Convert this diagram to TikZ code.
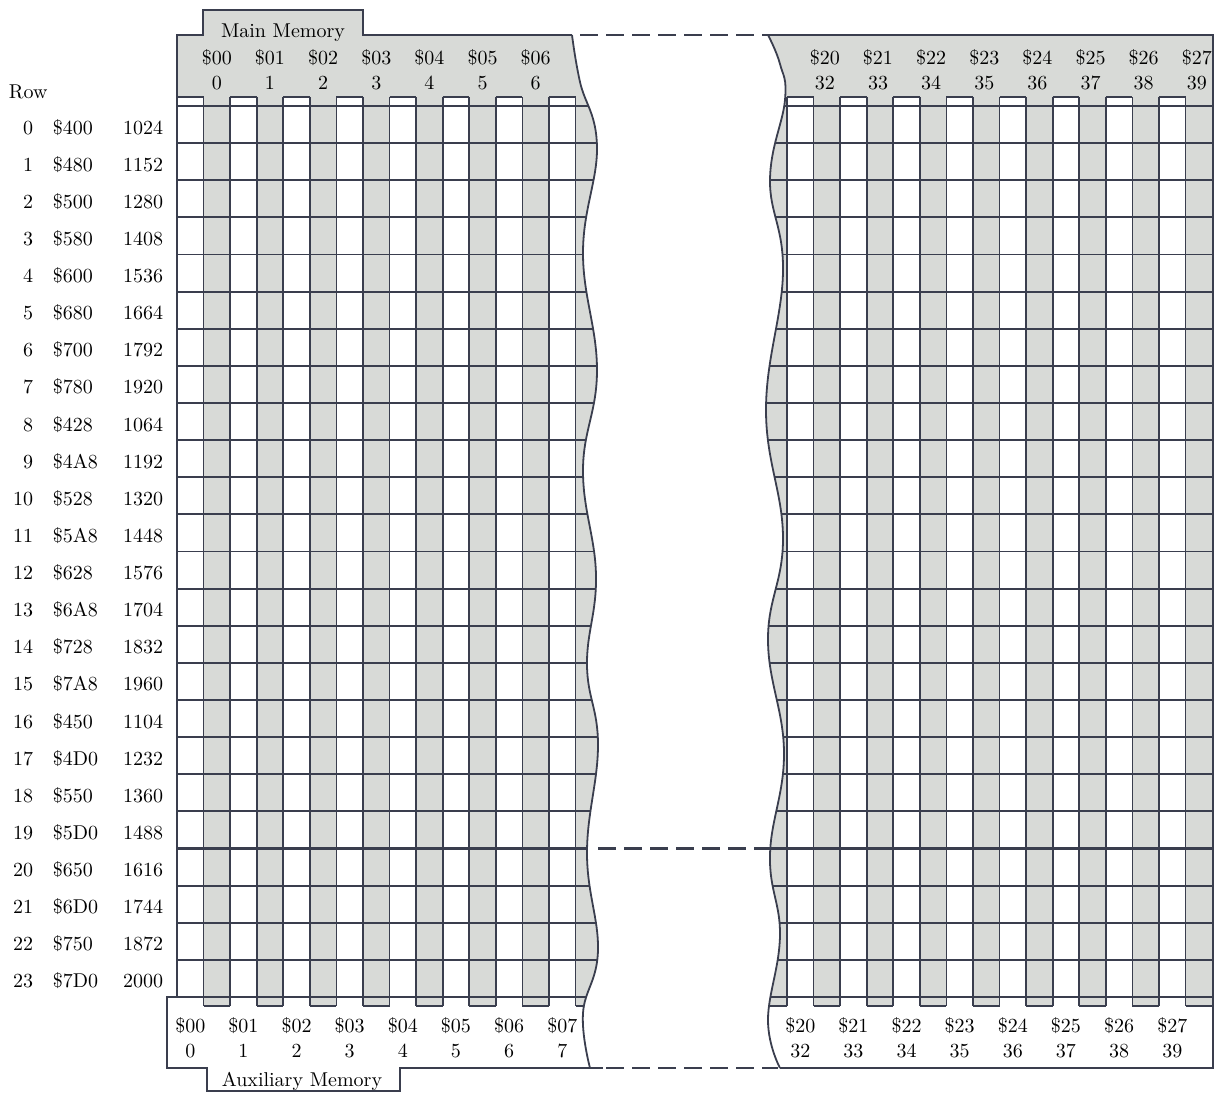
\documentclass[tikz,border=0pt]{standalone}
\usetikzlibrary{positioning}
\definecolor{memgray}{RGB}{216,218,215}
\definecolor{gridclr}{RGB}{58,62,78}
\newcommand{\colwd}{26.57}
\newcommand{\rowht}{37.125}
\newcommand{\leftwave}{plot[smooth, tension=0.7] coordinates {(572,35) (580,82) (597,147) (583,253) (597,370) (583,470) (596,575) (587,665) (598,745) (587,853) (598,950) (583,1013) (590,1068)}}
\newcommand{\rightwave}{plot[smooth, tension=0.7] coordinates {(768,35) (780,64) (785,100) (770,180) (783,272) (766,410) (783,537) (768,640) (784,752) (770,855) (780,935) (768,1020) (780,1068)}}

\begin{document}
\begin{tikzpicture}[x=0.5pt, y=-0.5pt, line width=0.9pt,
  gridln/.style={draw=gridclr, line width=0.9pt},
  lbl/.style={font=\fontsize{10}{12}\selectfont, inner sep=0pt, text=black}]
  \useasboundingbox (0,0) rectangle (1223,1093);

  % left part of the screen
  \begin{scope}
    \clip \leftwave -- (590,1093) -- (0,1093) -- (0,0) -- (572,0) -- cycle;
    \fill[memgray] (177,35) rectangle (620,106);
    \fill[memgray] (203,10) rectangle (363,35);
    \foreach \c in {1,3,...,15}
      \fill[memgray] ({177+\c*\colwd},106) rectangle ++(\colwd,900);
    \foreach \c in {0,2,...,14}
      \fill[white] ({177+\c*\colwd},97) rectangle ++(\colwd,9);
    \foreach \c in {1,...,16}
      \draw[gridln] ({177+\c*\colwd},97) -- ++(0,909);
    \foreach \c in {0,2,...,14}
      \draw[gridln] ({177+\c*\colwd},97) -- ++(\colwd,0);
    \foreach \c in {1,3,...,15}
      \draw[gridln] ({177+\c*\colwd},1006) -- ++(\colwd,0);
    \foreach \r in {0,...,24}
      \draw[gridln] (177,{106+\r*\rowht}) -- (620,{106+\r*\rowht});
    \draw[gridln, line width=1.6pt] (177,{106+20*\rowht}) -- (620,{106+20*\rowht});
  \end{scope}
  \draw[gridln] (177,997) -- (177,35) -- (203,35) -- (203,10) -- (363,10) -- (363,35) -- (572,35);
  \draw[gridln] \leftwave;
  \draw[gridln] (177,997) -- (167,997) -- (167,1068) -- (207,1068) -- (207,1091) -- (400,1091) -- (400,1068) -- (603,1068);

  % right part of the screen
  \begin{scope}
    \clip \rightwave -- (780,1093) -- (1223,1093) -- (1223,0) -- (768,0) -- cycle;
    \fill[memgray] (740,35) rectangle (1213,106);
    \foreach \m in {-1,1,...,15}
      \fill[memgray] ({787+\m*\colwd},106) rectangle ++(\colwd,900);
    \foreach \m in {0,2,...,14}
      \fill[white] ({787+\m*\colwd},97) rectangle ++(\colwd,9);
    \foreach \m in {-1,...,15}
      \draw[gridln] ({787+\m*\colwd},97) -- ++(0,909);
    \foreach \m in {0,2,...,14}
      \draw[gridln] ({787+\m*\colwd},97) -- ++(\colwd,0);
    \foreach \m in {-1,1,...,15}
      \draw[gridln] ({787+\m*\colwd},1006) -- ++(\colwd,0);
    \foreach \r in {0,...,24}
      \draw[gridln] (740,{106+\r*\rowht}) -- (1213,{106+\r*\rowht});
    \draw[gridln, line width=1.6pt] (740,{106+20*\rowht}) -- (1213,{106+20*\rowht});
  \end{scope}
  \draw[gridln] (768,35) -- (1213,35) -- (1213,1068) -- (780,1068);
  \draw[gridln] \rightwave;

  % the gap
  \draw[gridln, dash pattern=on 9pt off 4pt] (580,35) -- (768,35);
  \draw[gridln, line width=1.6pt, dash pattern=on 9pt off 4pt] (598,{106+20*\rowht}) -- (771,{106+20*\rowht});
  \draw[gridln, dash pattern=on 9pt off 4pt] (606,1068) -- (778,1068);

  % titles
  \node[lbl, anchor=base] (mainmem) at (283,37) {Main Memory};
  \node[lbl, anchor=base] (auxmem) at (302,1086) {Auxiliary Memory};
  \node[lbl, anchor=base west] (rowhead) at (8,98) {Row};

  % column numbers
  \foreach \k in {0,...,6} {
    \node[lbl, anchor=base] (mtop\k) at ({177+(2*\k+1.5)*\colwd},64) {\$0\k};
    \node[lbl, anchor=base] (mtopd\k) at ({177+(2*\k+1.5)*\colwd},89) {\k};
  }
  \foreach \k in {0,...,7} {
    \node[lbl, anchor=base] (abot\k) at ({177+(2*\k+0.5)*\colwd},1032) {\$0\k};
    \node[lbl, anchor=base] (abotd\k) at ({177+(2*\k+0.5)*\colwd},1057) {\k};
  }
  \foreach \k [evaluate=\k as \d using int(32+\k)] in {0,...,7} {
    \node[lbl, anchor=base] (rtop\k) at ({785+(2*\k+1.5)*\colwd},64) {\$2\k};
    \node[lbl, anchor=base] (rtopd\k) at ({785+(2*\k+1.5)*\colwd},89) {\d};
    \node[lbl, anchor=base] (rbot\k) at ({787+(2*\k+0.5)*\colwd},1032) {\$2\k};
    \node[lbl, anchor=base] (rbotd\k) at ({787+(2*\k+0.5)*\colwd},1057) {\d};
  }

  % row numbers and base addresses
  \foreach \r/\hex/\dec in {0/400/1024, 1/480/1152, 2/500/1280, 3/580/1408,
      4/600/1536, 5/680/1664, 6/700/1792, 7/780/1920, 8/428/1064, 9/4A8/1192,
      10/528/1320, 11/5A8/1448, 12/628/1576, 13/6A8/1704, 14/728/1832,
      15/7A8/1960, 16/450/1104, 17/4D0/1232, 18/550/1360, 19/5D0/1488,
      20/650/1616, 21/6D0/1744, 22/750/1872, 23/7D0/2000} {
    \node[lbl, anchor=base east] (rnum\r) at (34,{106+(\r+0.5)*\rowht+9.5}) {\r};
    \node[lbl, anchor=base west] (rhex\r) at (52,{106+(\r+0.5)*\rowht+9.5}) {\$\hex};
    \node[lbl, anchor=base east] (rdec\r) at (164,{106+(\r+0.5)*\rowht+9.5}) {\dec};
  }
\end{tikzpicture}
\end{document}
